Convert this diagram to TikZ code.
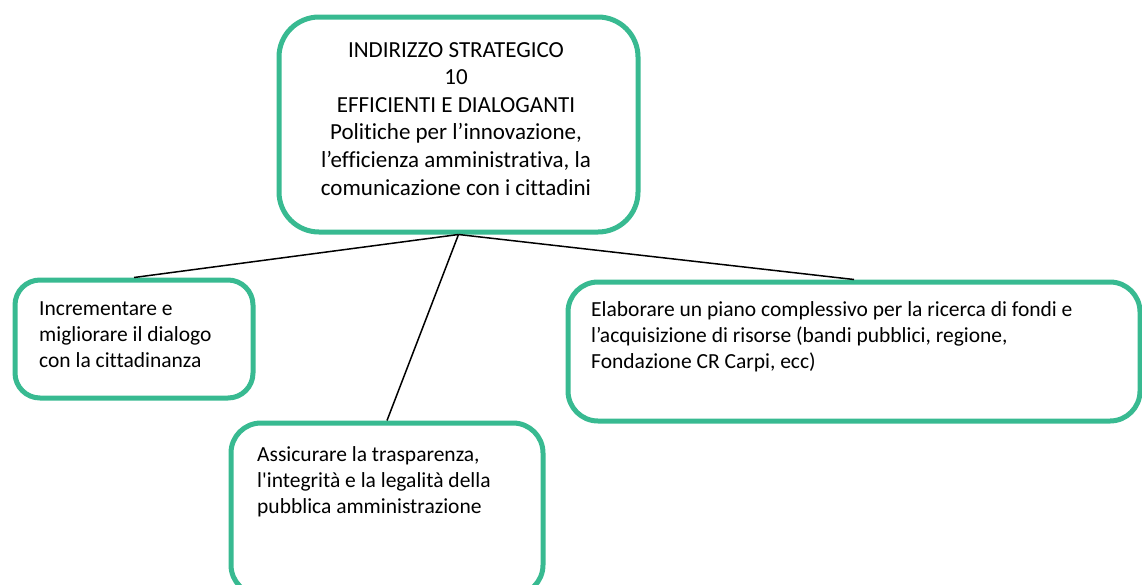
\documentclass[tikz,border=0pt]{standalone}
\usepackage{fontspec}
\setmainfont[Ligatures={NoCommon,NoRequired,NoContextual,TeXOff}]{Carlito}
\definecolor{boxgreen}{RGB}{56,186,145}
\begin{document}
\begin{tikzpicture}[x=1pt,y=-1pt,
  gbox/.style={draw=boxgreen,line width=5pt,rounded corners=#1,inner sep=0pt,anchor=north west},
  gbox/.default=30pt,
  ctext/.style={inner sep=0pt,anchor=base west,align=left,font=\fontsize{21.5}{26}\selectfont},
  ttext/.style={inner sep=0pt,anchor=base,align=center,font=\fontsize{23}{27.6}\selectfont},
  link/.style={draw=black,line width=1.5pt}]
\useasboundingbox (0,0) rectangle (1142,584);
% boxes
\node[gbox=40pt,minimum width=359pt,minimum height=215pt] (top) at (276.5,14.5) {};
\node[gbox=25pt,minimum width=238pt,minimum height=118pt] (left) at (12.5,277.5) {};
\node[gbox=30pt,minimum width=312pt,minimum height=172pt] (mid) at (228.5,420.5) {};
\node[gbox=30pt,minimum width=572pt,minimum height=139pt] (right) at (565.5,279.5) {};
% texts (anchored at baseline of last line)
\node[ttext] (toptext) at (456,195) {INDIRIZZO STRATEGICO\\10\\EFFICIENTI E DIALOGANTI\\Politiche per l’innovazione,\\l’efficienza amministrativa, la\\comunicazione con i cittadini};
\node[ctext] (lefttext) at (39,367) {Incrementare e\\migliorare il dialogo\\con la cittadinanza};
\node[ctext] (midtext) at (257,513) {Assicurare la trasparenza,\\l'integrità e la legalità della\\pubblica amministrazione};
\node[ctext] (righttext) at (591,368) {Elaborare un piano complessivo per la ricerca di fondi e\\l’acquisizione di risorse (bandi pubblici, regione,\\Fondazione CR Carpi, ecc)};
% connectors
\draw[link] (top.south) -- (left.north);
\draw[link] (top.south) -- (mid.north);
\draw[link] (top.south) -- (right.north);
\end{tikzpicture}
\end{document}
